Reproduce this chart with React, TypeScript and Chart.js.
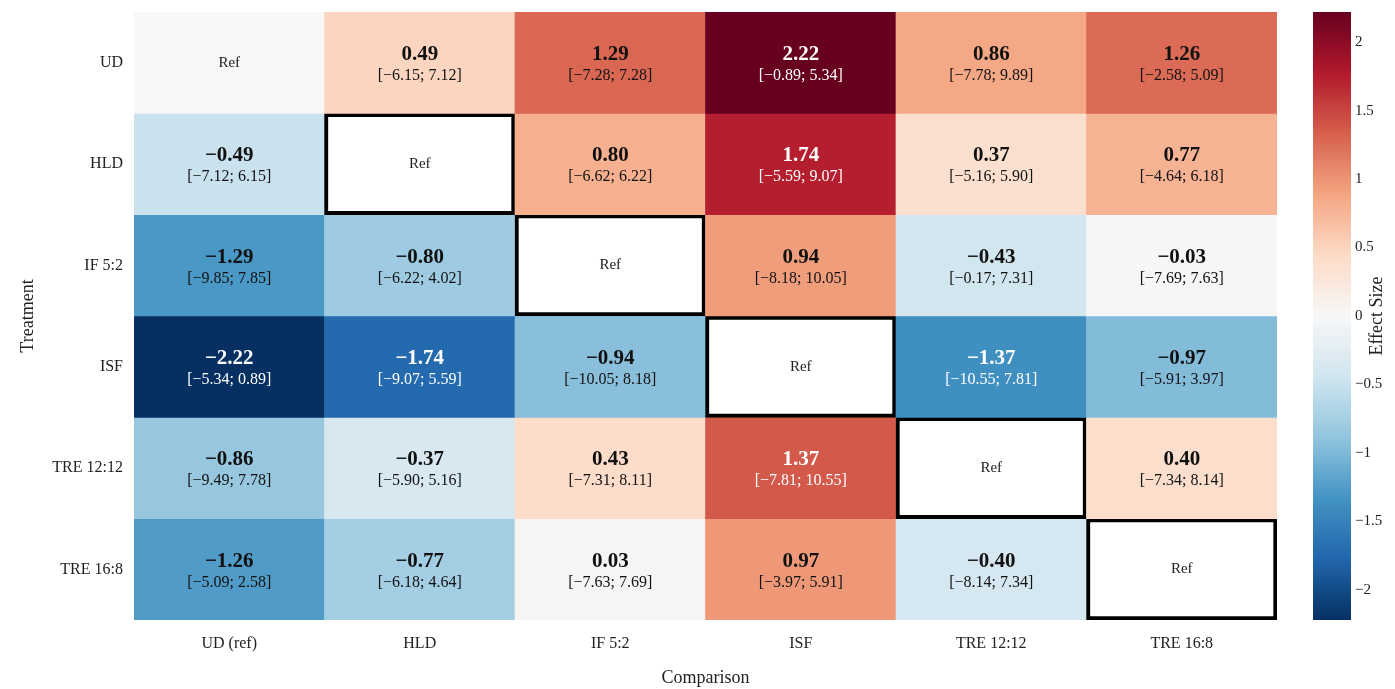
import { useEffect, useRef } from 'react';
import { Chart, registerables } from 'chart.js';

Chart.register(...registerables);

const rows = ['UD', 'HLD', 'IF 5:2', 'ISF', 'TRE 12:12', 'TRE 16:8'];
const cols = ['UD (ref)', 'HLD', 'IF 5:2', 'ISF', 'TRE 12:12', 'TRE 16:8'];

const effectSizes: (number | null)[][] = [
  [null, 0.49, 1.29, 2.22, 0.86, 1.26],
  [-0.49, null, 0.8, 1.74, 0.37, 0.77],
  [-1.29, -0.8, null, 0.94, -0.43, -0.03],
  [-2.22, -1.74, -0.94, null, -1.37, -0.97],
  [-0.86, -0.37, 0.43, 1.37, null, 0.4],
  [-1.26, -0.77, 0.03, 0.97, -0.4, null],
];
const ciLower: (number | null)[][] = [
  [null, -6.15, -7.28, -0.89, -7.78, -2.58],
  [-7.12, null, -6.62, -5.59, -5.16, -4.64],
  [-9.85, -6.22, null, -8.18, -0.17, -7.69],
  [-5.34, -9.07, -10.05, null, -10.55, -5.91],
  [-9.49, -5.9, -7.31, -7.81, null, -7.34],
  [-5.09, -6.18, -7.63, -3.97, -8.14, null],
];
const ciUpper: (number | null)[][] = [
  [null, 7.12, 7.28, 5.34, 9.89, 5.09],
  [6.15, null, 6.22, 9.07, 5.9, 6.18],
  [7.85, 4.02, null, 10.05, 7.31, 7.63],
  [0.89, 5.59, 8.18, null, 7.81, 3.97],
  [7.78, 5.16, 8.11, 10.55, null, 8.14],
  [2.58, 4.64, 7.69, 5.91, 7.34, null],
];
const colorbarTicks = [-2, -1.5, -1, -0.5, 0, 0.5, 1, 1.5, 2];
const colorMin = -2.22;
const colorMax = 2.22;

const RDBU_R = ['#053061', '#2166ac', '#4393c3', '#92c5de', '#d1e5f0', '#f7f7f7', '#fddbc7', '#f4a582', '#d6604d', '#b2182b', '#67001f'];
const FONT = '"Liberation Serif", "Times New Roman", serif';

function hexToRgb(h: string) {
  return [parseInt(h.slice(1, 3), 16), parseInt(h.slice(3, 5), 16), parseInt(h.slice(5, 7), 16)];
}
function cmap(v: number) {
  let t = (v - colorMin) / (colorMax - colorMin);
  t = Math.max(0, Math.min(1, t));
  const p = t * (RDBU_R.length - 1);
  const i = Math.min(RDBU_R.length - 2, Math.floor(p));
  const f = p - i;
  const a = hexToRgb(RDBU_R[i]);
  const b = hexToRgb(RDBU_R[i + 1]);
  const c = a.map((av, k) => Math.round(av + (b[k] - av) * f));
  return `rgb(${c[0]},${c[1]},${c[2]})`;
}
function fmt(v: number) {
  const s = Math.abs(v).toFixed(2);
  return v < 0 ? '\u2212' + s : s;
}
function isBoxed(r: number, c: number) {
  return r === c && r > 0;
}
function cellColor(r: number, c: number) {
  if (isBoxed(r, c)) return '#ffffff';
  const v = effectSizes[r][c];
  return cmap(v === null ? 0 : v);
}
function zeroPad(s: any) {
  s.paddingTop = 0;
  s.paddingBottom = 0;
  s.paddingLeft = 0;
  s.paddingRight = 0;
}

export default function App() {
  const ref = useRef<HTMLCanvasElement>(null);
  useEffect(() => {
    const canvas = ref.current!;
    const datasets = rows.map((name, r) => ({
      label: name,
      data: cols.map(() => [r, r + 1]),
      backgroundColor: cols.map((_, c) => cellColor(r, c)),
      borderColor: '#000000',
      borderWidth: cols.map((_, c) => (isBoxed(r, c) ? 4 : 0)),
      borderSkipped: false,
      barPercentage: 1,
      categoryPercentage: 1,
      grouped: false,
    }));

    const textPlugin = {
      id: 'cellText',
      afterDatasetsDraw(chart: any) {
        const { ctx, scales } = chart;
        const x = scales.x;
        const y = scales.y;
        ctx.save();
        ctx.textAlign = 'center';
        ctx.textBaseline = 'middle';
        rows.forEach((_, r) => {
          cols.forEach((__, c) => {
            const cx = x.getPixelForValue(c);
            const cy = y.getPixelForValue(r + 0.5);
            const v = effectSizes[r][c];
            if (v === null) {
              ctx.fillStyle = '#222';
              ctx.font = `15px ${FONT}`;
              ctx.fillText('Ref', cx, cy);
              return;
            }
            ctx.fillStyle = Math.abs(v) >= 1.3 ? '#ffffff' : '#111111';
            ctx.font = `bold 21px ${FONT}`;
            ctx.fillText(fmt(v), cx, cy - 8);
            ctx.font = `16px ${FONT}`;
            ctx.fillText(`[${fmt(ciLower[r][c] as number)}; ${fmt(ciUpper[r][c] as number)}]`, cx, cy + 13);
          });
        });
        ctx.restore();
      },
      afterDraw(chart: any) {
        const { ctx, scales, chartArea } = chart;
        const cb = scales.cb;
        const top = cb.getPixelForValue(colorMax);
        const bottom = cb.getPixelForValue(colorMin);
        const g = ctx.createLinearGradient(0, bottom, 0, top);
        RDBU_R.forEach((col, i) => g.addColorStop(i / (RDBU_R.length - 1), col));
        ctx.save();
        ctx.fillStyle = g;
        ctx.fillRect(1313, top, 38, bottom - top);
        ctx.fillStyle = '#222';
        ctx.textAlign = 'center';
        ctx.textBaseline = 'middle';
        const midY = (chartArea.top + chartArea.bottom) / 2;
        ctx.font = `18px ${FONT}`;
        ctx.fillText('Comparison', (chartArea.left + chartArea.right) / 2, 678);
        ctx.save();
        ctx.translate(28, midY);
        ctx.rotate(-Math.PI / 2);
        ctx.font = `18px ${FONT}`;
        ctx.fillText('Treatment', 0, 0);
        ctx.restore();
        ctx.save();
        ctx.translate(1377, midY);
        ctx.rotate(-Math.PI / 2);
        ctx.font = `18px ${FONT}`;
        ctx.fillText('Effect Size', 0, 0);
        ctx.restore();
        ctx.restore();
      },
    };

    const chart = new Chart(canvas, {
      type: 'bar',
      data: { labels: cols, datasets: datasets as any },
      options: {
        animation: false,
        responsive: false,
        devicePixelRatio: 1,
        layout: { padding: { top: 12, left: 0, right: 0, bottom: 0 } },
        plugins: { legend: { display: false }, tooltip: { enabled: false } },
        scales: {
          x: {
            type: 'category',
            grid: { display: false, drawTicks: false },
            border: { display: false },
            ticks: { font: { family: FONT, size: 16 }, color: '#222', padding: 14 },
            afterFit: (s: any) => {
              s.height = 69;
              zeroPad(s);
            },
          },
          y: {
            type: 'linear',
            min: 0,
            max: 6,
            reverse: true,
            grid: { display: false, drawTicks: false },
            border: { display: false },
            ticks: {
              font: { family: FONT, size: 16 },
              color: '#222',
              padding: 11,
              autoSkip: false,
              callback: (v: any) => rows[Math.floor(Number(v))] ?? '',
            },
            afterBuildTicks: (s: any) => {
              s.ticks = rows.map((_, i) => ({ value: i + 0.5 }));
            },
            afterFit: (s: any) => {
              s.width = 134;
              zeroPad(s);
            },
          },
          cb: {
            type: 'linear',
            position: 'right',
            min: colorMin,
            max: colorMax,
            grid: { display: false, drawTicks: false },
            border: { display: false },
            ticks: {
              font: { family: FONT, size: 15 },
              color: '#222',
              padding: 78,
              autoSkip: false,
              callback: (v: any) => {
                const n = Number(v);
                return n < 0 ? '\u2212' + String(Math.abs(n)) : String(n);
              },
            },
            afterBuildTicks: (s: any) => {
              s.ticks = colorbarTicks.map((v) => ({ value: v }));
            },
            afterFit: (s: any) => {
              s.width = 118;
              zeroPad(s);
            },
          },
        },
      } as any,
      plugins: [textPlugin],
    });
    return () => chart.destroy();
  }, []);
  return (
    <div style={{ position: 'absolute', left: 0, top: 0, width: 1395, height: 689, background: '#fff' }}>
      <canvas ref={ref} width={1395} height={689} style={{ display: 'block' }} />
    </div>
  );
}
